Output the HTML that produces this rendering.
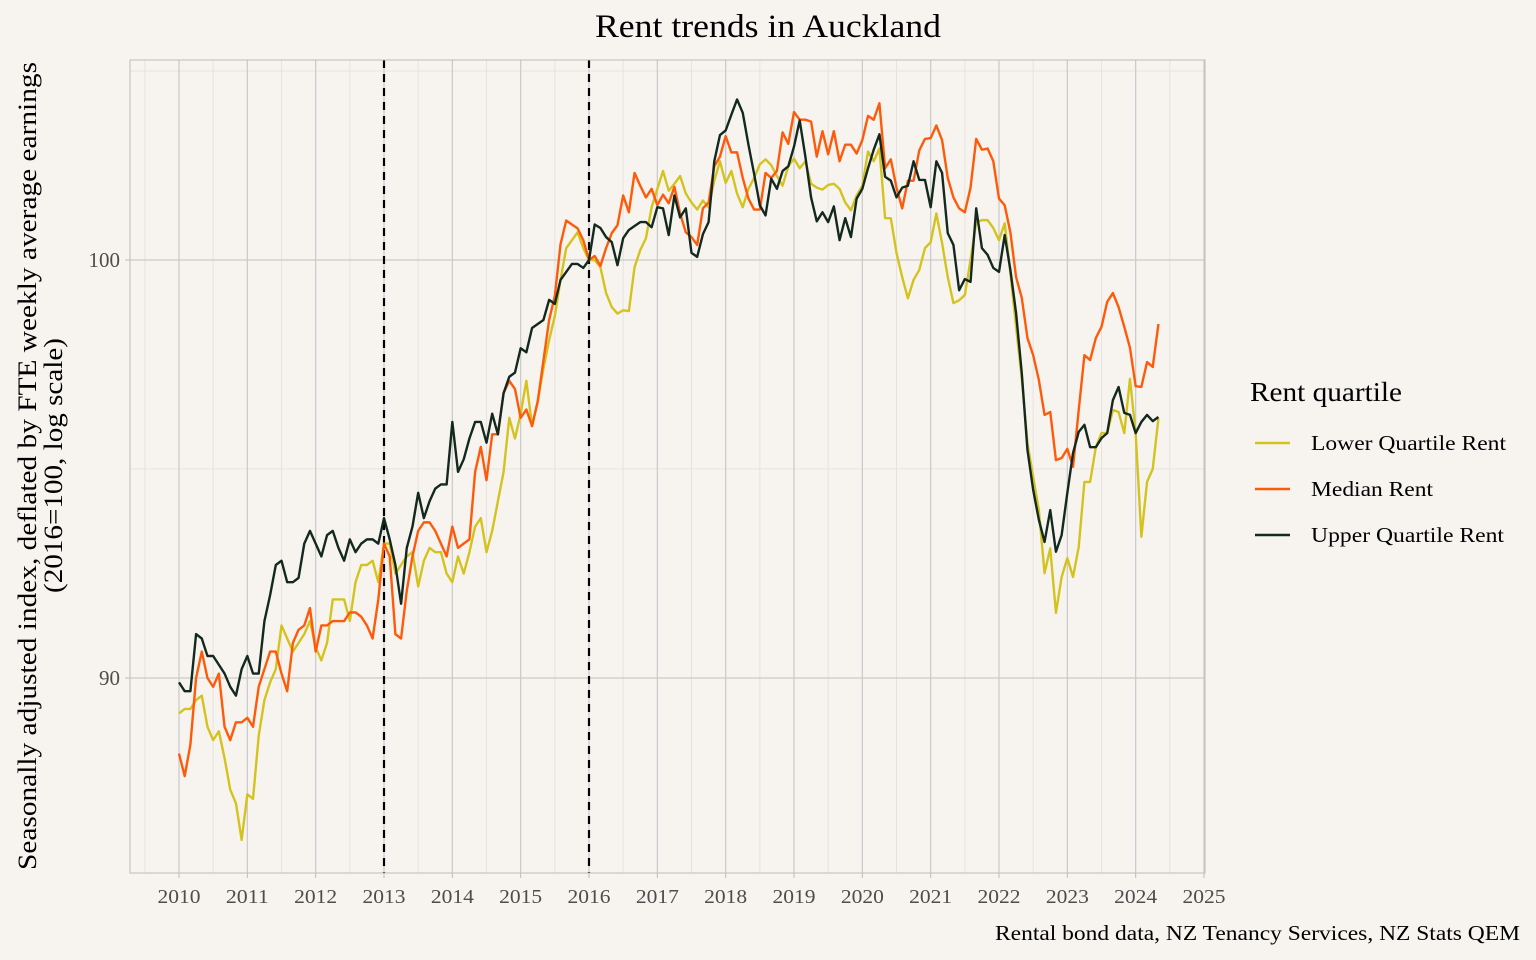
<!DOCTYPE html>
<html><head><meta charset="utf-8"><style>
html,body{margin:0;padding:0;background:#f7f4f0;}
svg{display:block;font-family:"Liberation Serif",serif;}
</style></head><body>
<svg id="chart" width="1536" height="960" viewBox="0 0 1536 960" xmlns="http://www.w3.org/2000/svg">
<rect x="0" y="0" width="1536" height="960" fill="#f7f4f0"/>
<text x="595" y="37" font-size="33" textLength="346" lengthAdjust="spacingAndGlyphs" fill="#000">Rent trends in Auckland</text>
<g id="grid"></g>
<g id="vlines"></g>
<g id="series"></g>
<rect x="130" y="60" width="1075" height="813" fill="none" stroke="#bdbdbd" stroke-width="1"/>
<g id="xticks"></g>
<g id="yticks"></g>
<text transform="translate(36,466) rotate(-90)" font-size="26" fill="#000"><tspan x="-404" y="0" textLength="808" lengthAdjust="spacingAndGlyphs">Seasonally adjusted index, deflated by FTE weekly average earnings</tspan><tspan x="-127" y="26" textLength="255" lengthAdjust="spacingAndGlyphs">(2016=100, log scale)</tspan></text>
<g>
<text x="1250" y="401" font-size="27" textLength="152" lengthAdjust="spacingAndGlyphs" fill="#000">Rent quartile</text>
<g><line x1="1255" x2="1290" y1="443" y2="443" stroke="#d4c31f" stroke-width="2.5"/><text x="1311" y="450" font-size="21" textLength="195" lengthAdjust="spacingAndGlyphs" fill="#000">Lower Quartile Rent</text></g>
<g><line x1="1255" x2="1290" y1="489" y2="489" stroke="#ff5a0a" stroke-width="2.5"/><text x="1311" y="496" font-size="21" textLength="122" lengthAdjust="spacingAndGlyphs" fill="#000">Median Rent</text></g>
<g><line x1="1255" x2="1290" y1="535" y2="535" stroke="#13291f" stroke-width="2.5"/><text x="1311" y="542" font-size="21" textLength="193" lengthAdjust="spacingAndGlyphs" fill="#000">Upper Quartile Rent</text></g>
</g>
<text x="995" y="940" font-size="21" textLength="525" lengthAdjust="spacingAndGlyphs" fill="#000">Rental bond data, NZ Tenancy Services, NZ Stats QEM</text>
</svg>
<script>
const startYear = 2010;
const xTickYears = [2010,2011,2012,2013,2014,2015,2016,2017,2018,2019,2020,2021,2022,2023,2024,2025];
const yTickValues = [90, 100];
const yMinorValues = [94.87, 104.88];
const eventYears = [2013, 2016];
const lowerQuartile = [
89.2,89.3,89.3,89.5,89.6,88.9,88.6,88.8,88.2,87.5,87.2,86.4,
87.4,87.3,88.7,89.5,89.9,90.2,91.2,90.9,90.6,90.8,91.0,91.3,
90.7,90.4,90.8,91.8,91.8,91.8,91.3,92.2,92.6,92.6,92.7,92.2,
93.1,93.1,92.4,92.6,92.8,92.9,92.1,92.7,93.0,92.9,92.9,92.4,
92.2,92.8,92.4,92.9,93.5,93.7,92.9,93.4,94.1,94.8,96.1,95.6,
96.2,97.0,95.9,96.5,97.3,98.0,98.6,99.5,100.3,100.5,100.7,100.3,
100.0,100.0,99.82,99.17,98.82,98.66,98.74,98.72,99.82,100.25,100.55,101.34,
101.81,102.27,101.76,101.94,102.14,101.69,101.46,101.28,101.51,101.34,102.02,102.52,
101.96,102.27,101.69,101.34,101.81,102.09,102.44,102.57,102.42,102.14,101.89,102.39,
102.59,102.34,102.52,101.94,101.84,101.79,101.91,101.94,101.81,101.46,101.26,101.64,
101.89,102.77,102.52,102.85,101.06,101.06,100.18,99.57,99.04,99.50,99.75,100.30,
100.45,101.18,100.43,99.57,98.92,98.99,99.12,100.00,100.96,101.01,101.01,100.81,
100.50,100.93,99.67,98.33,97.05,95.49,94.68,93.89,92.41,92.99,91.49,92.32,
92.76,92.32,93.02,94.56,94.56,95.39,95.73,95.73,96.29,96.24,95.73,97.05,
95.73,93.26,94.56,94.87,96.09];
const medianRent = [
88.3,87.8,88.5,90.0,90.6,90.0,89.8,90.1,88.9,88.6,89.0,89.0,
89.1,88.9,89.8,90.2,90.6,90.6,90.1,89.7,90.8,91.1,91.2,91.6,
90.6,91.2,91.2,91.3,91.3,91.3,91.5,91.5,91.4,91.2,90.9,91.8,
93.1,92.8,91.0,90.9,92.0,92.8,93.4,93.6,93.6,93.4,93.1,92.8,
93.5,93.0,93.1,93.2,94.8,95.4,94.6,95.7,95.7,96.7,97.0,96.8,
96.1,96.3,95.9,96.5,97.5,98.5,99.1,100.4,101.0,100.9,100.8,100.5,
100.0,100.1,99.85,100.3,100.68,100.88,101.64,101.21,102.22,101.89,101.59,101.81,
101.39,101.66,101.44,101.86,101.18,100.70,100.58,100.38,101.31,101.46,102.39,102.64,
103.17,102.75,102.75,102.09,101.56,101.28,101.28,102.22,102.09,102.27,103.27,102.97,
103.80,103.60,103.60,103.55,102.64,103.30,102.70,103.30,102.52,102.95,102.95,102.72,
103.07,103.70,103.60,104.03,102.34,102.57,101.84,101.31,102.02,102.02,102.80,103.10,
103.12,103.45,103.07,102.09,101.59,101.31,101.21,101.84,103.10,102.82,102.85,102.52,
101.56,101.39,100.70,99.57,99.05,98.05,97.63,97.02,96.17,96.24,95.08,95.13,
95.35,94.92,96.29,97.63,97.51,98.05,98.33,98.95,99.17,98.82,98.33,97.81,
96.87,96.85,97.46,97.34,98.40];
const upperQuartile = [
89.9,89.7,89.7,91.0,90.9,90.5,90.5,90.3,90.1,89.8,89.6,90.2,
90.5,90.1,90.1,91.3,91.9,92.6,92.7,92.2,92.2,92.3,93.1,93.4,
93.1,92.8,93.3,93.4,93.0,92.7,93.2,92.9,93.1,93.2,93.2,93.1,
93.7,93.2,92.6,91.7,93.0,93.5,94.3,93.7,94.1,94.4,94.5,94.5,
96.0,94.8,95.1,95.6,96.0,96.0,95.5,96.2,95.7,96.7,97.1,97.2,
97.8,97.7,98.3,98.4,98.5,99.0,98.9,99.5,99.7,99.9,99.9,99.8,
100.0,100.9,100.81,100.58,100.45,99.87,100.55,100.76,100.86,100.96,100.96,100.83,
101.34,101.31,100.63,101.64,101.08,101.31,100.18,100.08,100.65,100.96,102.52,103.20,
103.32,103.73,104.13,103.78,102.95,102.19,101.39,101.13,102.07,101.81,102.27,102.39,
102.90,103.58,102.64,101.59,100.98,101.21,100.96,101.36,100.50,101.06,100.58,101.56,
101.81,102.34,102.82,103.22,102.12,102.02,101.59,101.84,101.89,102.52,102.04,102.04,
101.34,102.52,102.22,100.68,100.38,99.24,99.52,99.45,101.31,100.30,100.13,99.80,
99.70,100.63,99.75,98.67,97.19,95.32,94.37,93.66,93.14,93.89,92.91,93.30,
94.30,95.25,95.76,95.93,95.39,95.39,95.61,95.73,96.53,96.85,96.22,96.17,
95.73,96.00,96.17,96.02,96.12];

const NS = "http://www.w3.org/2000/svg";
const plotL = 130, plotR = 1205, plotT = 60, plotB = 873;
function xScale(yr){ return 179 + (yr - 2010) * (1025/15); }
function yScale(v){ return 260 - Math.log(v/100) * 3967; }
function mk(tag, attrs, parent){ const e = document.createElementNS(NS, tag); for (const k in attrs) e.setAttribute(k, attrs[k]); parent.appendChild(e); return e; }

const grid = document.getElementById('grid');
for (let y = 2009.5; y <= 2025.5; y += 1) {
  const x = xScale(y);
  if (x < plotL || x > plotR) continue;
  const l = mk('line', {x1:x, x2:x, y1:plotT, y2:plotB, stroke:'#e6e3df', 'stroke-width':1}, grid);
  
  
}
yMinorValues.forEach(v => {
  const y = yScale(v);
  const l = mk('line', {x1:plotL, x2:plotR, y1:y, y2:y, stroke:'#e6e3df', 'stroke-width':1}, grid);
  
  
});
const xt = document.getElementById('xticks');
xTickYears.forEach(yr => {
  const x = xScale(yr);
  const l = mk('line', {x1:x, x2:x, y1:plotT, y2:plotB, stroke:'#c9c9c9', 'stroke-width':1.2}, grid);
  
  
  const tk = mk('line', {x1:x, x2:x, y1:plotB, y2:plotB+5, stroke:'#bdbdbd', 'stroke-width':1}, xt);
  
  
  const t = mk('text', {x:x-21.5, y:903, 'font-size':20, textLength:43, lengthAdjust:'spacingAndGlyphs', fill:'#4d4d4d'}, xt);
  t.textContent = yr;
  
  
});
const yt = document.getElementById('yticks');
yTickValues.forEach(v => {
  const y = yScale(v);
  const l = mk('line', {x1:plotL, x2:plotR, y1:y, y2:y, stroke:'#c9c9c9', 'stroke-width':1.2}, grid);
  
  
  const tk = mk('line', {x1:plotL-5, x2:plotL, y1:y, y2:y, stroke:'#bdbdbd', 'stroke-width':1}, yt);
  
  
  const t = mk('text', {x:plotL-10, y:y+7, 'text-anchor':'end', 'font-size':21, fill:'#4d4d4d'}, yt);
  t.textContent = v;
  
  
});
const vl = document.getElementById('vlines');
eventYears.forEach(yr => {
  const x = xScale(yr);
  const l = mk('line', {x1:x, x2:x, y1:plotT, y2:plotB, stroke:'#000', 'stroke-width':2.2, 'stroke-dasharray':'8,6'}, vl);
  
  
});
const ser = document.getElementById('series');
function drawSeries(arr, color, name){
  const pts = arr.map((v,i) => xScale(startYear + i/12).toFixed(2) + ',' + yScale(v).toFixed(2)).join(' ');
  const p = mk('polyline', {points:pts, fill:'none', stroke:color, 'stroke-width':2.4, 'stroke-linejoin':'round'}, ser);
  
  
}
drawSeries(lowerQuartile, '#d4c31f', 'lower-quartile-line');
drawSeries(medianRent, '#ff5a0a', 'median-rent-line');
drawSeries(upperQuartile, '#13291f', 'upper-quartile-line');
</script>
</body></html>
